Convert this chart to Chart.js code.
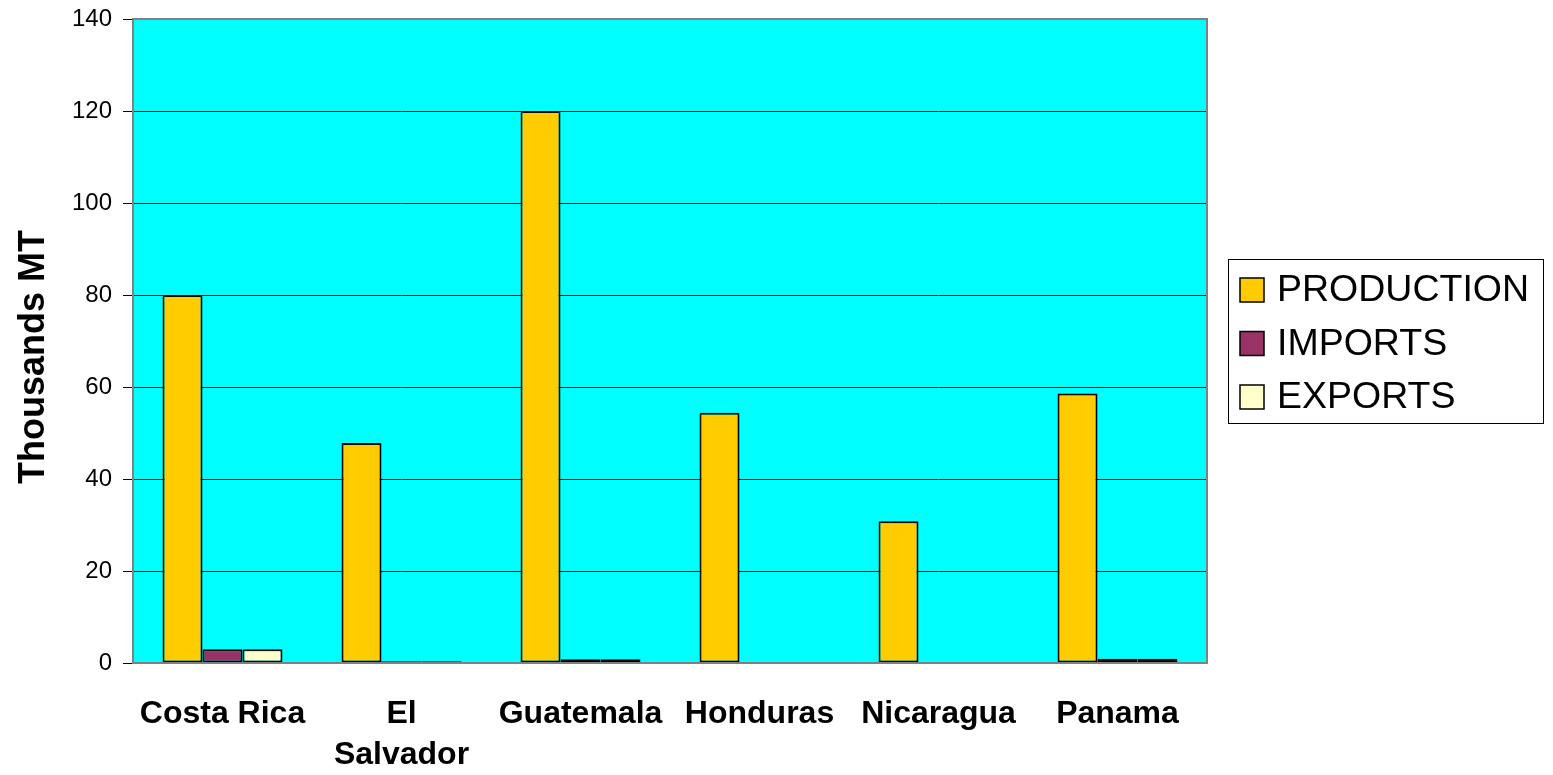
<!DOCTYPE html>
<html>
<head>
<meta charset="utf-8">
<script src="https://cdn.jsdelivr.net/npm/chart.js@4"></script>
<style>
html,body{margin:0;padding:0;background:#fff;}
#wrap{width:1553px;height:775px;position:relative;}
</style>
</head>
<body>
<div id="wrap"><canvas id="c" width="1553" height="775"></canvas></div>
<script>
const categories = ['Costa Rica', ['El', 'Salvador'], 'Guatemala', 'Honduras', 'Nicaragua', 'Panama'];
const production = [80, 47.8, 120, 54.4, 30.8, 58.6];
const imports = [3, 0.4, 0.8, 0, 0, 0.9];
const exportsData = [3, 0.4, 0.8, 0, 0, 0.9];
const yTicks = [0, 20, 40, 60, 80, 100, 120, 140];
const seriesNames = ['PRODUCTION', 'IMPORTS', 'EXPORTS'];
const seriesColors = ['#FFCC00', '#993366', '#FFFFCC'];
const yTitle = 'Thousands MT';

const FONT = "'Liberation Sans', Arial, sans-serif";

const bgPlugin = {
  id: 'plotbg',
  beforeDraw(chart) {
    const {ctx, chartArea: a} = chart;
    ctx.save();
    ctx.fillStyle = '#00FFFF';
    ctx.fillRect(a.left, a.top, a.right - a.left, a.bottom - a.top);
    ctx.restore();
  },
  afterDraw(chart) {
    const {ctx, chartArea: a} = chart;
    ctx.save();
    ctx.strokeStyle = '#808080';
    ctx.lineWidth = 2;
    ctx.strokeRect(a.left, a.top, a.right - a.left, a.bottom - a.top);
    // y axis title
    ctx.save();
    ctx.translate(34, 357);
    ctx.rotate(-Math.PI / 2);
    ctx.font = "bold 36px " + FONT;
    ctx.fillStyle = '#000';
    ctx.textAlign = 'center';
    ctx.textBaseline = 'middle';
    ctx.fillText(yTitle, 0, 0);
    ctx.restore();
    // legend
    const lx = 1228.5, ly = 259.5, lw = 315, lh = 164;
    ctx.fillStyle = '#ffffff';
    ctx.fillRect(lx, ly, lw, lh);
    ctx.strokeStyle = '#000000';
    ctx.lineWidth = 1;
    ctx.strokeRect(lx, ly, lw, lh);
    ctx.font = "37.5px " + FONT;
    ctx.textBaseline = 'middle';
    ctx.textAlign = 'left';
    chart.data.datasets.forEach((ds, i) => {
      const cy = 290 + i * 53.5;
      ctx.fillStyle = ds.backgroundColor;
      ctx.fillRect(1240, cy - 12, 24, 24);
      ctx.strokeStyle = '#000';
      ctx.lineWidth = 1.5;
      ctx.strokeRect(1240, cy - 12, 24, 24);
      ctx.fillStyle = '#000';
      ctx.fillText(ds.label, 1277, cy + 1);
    });
    ctx.restore();
  }
};

const mk = (i, data) => ({
  label: seriesNames[i],
  data: data,
  backgroundColor: seriesColors[i],
  borderColor: '#000000',
  borderWidth: 2,
  borderSkipped: false
});

new Chart(document.getElementById('c'), {
  type: 'bar',
  data: {
    labels: categories,
    datasets: [mk(0, production), mk(1, imports), mk(2, exportsData)]
  },
  options: {
    responsive: false,
    animation: false,
    layout: {padding: {top: 19, right: 346, left: 0, bottom: 0}},
    plugins: {legend: {display: false}, tooltip: {enabled: false}},
    datasets: {bar: {categoryPercentage: 0.67, barPercentage: 1.0}},
    scales: {
      x: {
        grid: {display: false},
        border: {display: false},
        ticks: {
          color: '#000',
          font: {family: FONT, size: 32, weight: 'bold', lineHeight: 1.3},
          padding: 22,
          maxRotation: 0,
          autoSkip: false
        },
        afterFit(s) { s.height = 112; s.paddingLeft = 0; s.paddingRight = 0; }
      },
      y: {
        min: 0, max: 140,
        afterBuildTicks(s) { s.ticks = yTicks.map(v => ({value: v})); },
        grid: {color: '#000000', lineWidth: 1, tickLength: 10, drawTicks: true},
        border: {display: false},
        ticks: {
          color: '#000',
          font: {family: FONT, size: 24},
          padding: 11
        },
        title: {display: false},
        afterFit(s) { s.width = 133; s.paddingTop = 0; s.paddingBottom = 0; }
      }
    }
  },
  plugins: [bgPlugin]
});
</script>
</body>
</html>
